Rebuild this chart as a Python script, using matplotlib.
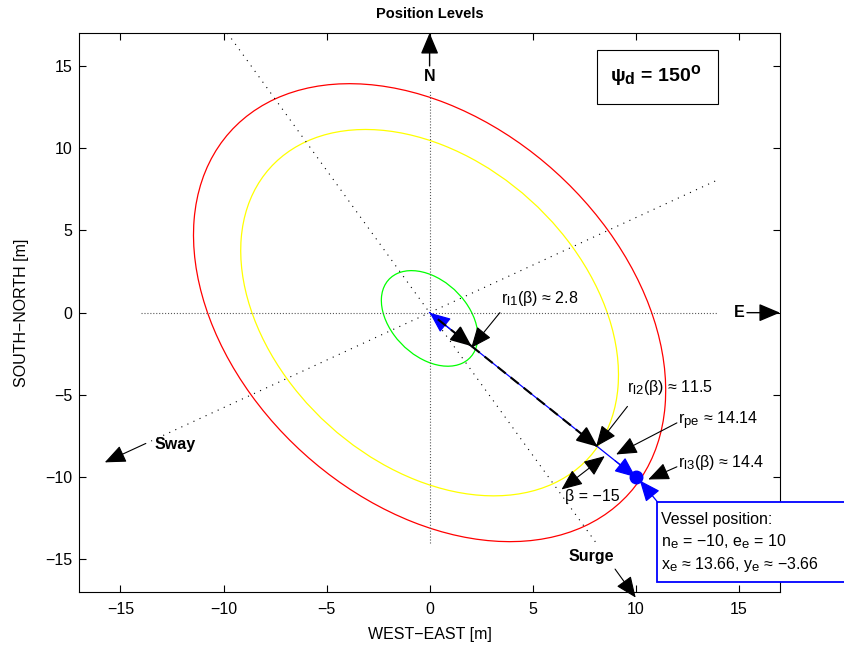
import numpy as np
import matplotlib
matplotlib.use('Agg')
import matplotlib.pyplot as plt
from matplotlib.patches import Ellipse, Rectangle

try:
    import matplotlib._mathtext as _mt
    _mt.SHRINK_FACTOR = 0.82   # larger sub/superscripts, closer to the original
except Exception:
    pass

plt.rcParams['font.family'] = ['Liberation Sans', 'DejaVu Sans']
plt.rcParams['mathtext.fontset'] = 'custom'
plt.rcParams['mathtext.rm'] = 'Liberation Sans'
plt.rcParams['mathtext.it'] = 'Liberation Sans:italic'
plt.rcParams['mathtext.bf'] = 'Liberation Sans:bold'

# data
psi_d = 150.0                      # desired heading [deg]
beta = -15.0                       # angle between surge axis and vessel position [deg]
surge_radii = [3.15, 12.0, 15.0]   # level ellipse semi-axes along surge
sway_radii = [2.0, 8.0, 10.0]      # level ellipse semi-axes along sway
level_north = [-0.35, 0.0, 0.0]    # ellipse centre offsets (north)
level_colors = ['#00ff00', '#ffff00', '#ff0000']
level_r = [2.8, 11.5, 14.4]        # r_l(beta) values shown
vessel_n, vessel_e = -10.0, 10.0
r_pe = 14.14
x_e, y_e = 13.66, -3.66
ticks = [-15, -10, -5, 0, 5, 10, 15]


def arrow(ax, start, end, color='k', both=False, lw=0.8, scale=10, z=3):
    style = '<|-|>' if both else '-|>'
    ax.annotate('', xy=end, xytext=start, annotation_clip=False, zorder=z,
                arrowprops=dict(arrowstyle=style + ',head_length=1.3,head_width=0.55',
                                color=color, lw=lw, shrinkA=0, shrinkB=0,
                                mutation_scale=scale))


def ned(t, ang):
    # point at distance t along NED direction ang [deg] -> (east, north)
    a = np.deg2rad(ang)
    return t * np.sin(a), t * np.cos(a)


fig = plt.figure(figsize=(8.45, 6.46), dpi=100)
ax = fig.add_axes([0.0938, 0.0831, 0.8292, 0.8658])

# level ellipses, major axis along surge
for a, b, n0, c in zip(surge_radii, sway_radii, level_north, level_colors):
    ax.add_patch(Ellipse((0, n0), 2 * a, 2 * b, angle=90 - psi_d,
                         fill=False, edgecolor=c, lw=0.9))

# N / E reference axes
ax.plot([-14, 14], [0, 0], ls=':', color='0.35', lw=0.8)
ax.plot([0, 0], [-14, 13.5], ls=':', color='0.35', lw=0.8)
arrow(ax, (0, 15.0), (0, 17.0), color='k', lw=1)
arrow(ax, (15.4, 0), (17.0, 0), color='k', lw=1)
ax.text(0, 14.35, 'N', ha='center', va='center', fontsize=11.5, fontweight='bold')
ax.text(15.05, 0, 'E', ha='center', va='center', fontsize=11.5, fontweight='bold')

# body axes
sx = ned(np.array([-20, 16.3]), psi_d)
ax.plot(sx[0], sx[1], ls=(0, (1, 5)), color='k', lw=0.8)
arrow(ax, ned(18.0, psi_d), ned(20.0, psi_d), lw=0.8)
ax.text(7.85, -14.85, 'Surge', ha='center', va='center', fontsize=11.5, fontweight='bold')
sy = ned(np.array([-16, 15.6]), psi_d + 90)
ax.plot(sy[0], sy[1], ls=(0, (1, 5)), color='k', lw=0.8)
arrow(ax, ned(15.9, psi_d + 90), ned(18.2, psi_d + 90), lw=0.8)
ax.text(-12.35, -8.0, 'Sway', ha='center', va='center', fontsize=11.5, fontweight='bold')

# radius to vessel and level crossings
ang = psi_d + beta
p1 = ned(level_r[0] + 0.08, ang)
p2 = ned(level_r[1] + 0.03, ang)
pv = (vessel_e, vessel_n)
ax.plot([0, pv[0]], [0, pv[1]], color='b', lw=0.9)
arrow(ax, (pv[0] * 0.1, pv[1] * 0.1), (0, 0), color='b', lw=0.9)
arrow(ax, (pv[0] * 0.9, pv[1] * 0.9), pv, color='b', lw=0.9)
ax.plot([0.4, p1[0]], [-0.4, p1[1]], color='k', lw=1.5, ls=(0, (5, 3)), zorder=4)
ax.plot([p1[0], p2[0]], [p1[1], p2[1]], color='k', lw=1.5, ls=(0, (5, 3)), zorder=4)
arrow(ax, (p1[0] - 0.8, p1[1] + 0.8), p1, lw=1.3, z=4)
arrow(ax, (p2[0] - 0.8, p2[1] + 0.8), p2, lw=1.3, z=4)
ax.plot(pv[0], pv[1], 'o', color='b', ms=9, zorder=5)

# beta arrow
arrow(ax, (6.4, -10.75), (8.5, -8.72), both=True, lw=0.8)

# text arrows
fs = 11.5
arrow(ax, (3.41, 0.0), (2.02, -2.14), lw=0.8)
ax.text(3.45, 0.85, r'r$_{\mathrm{l1}}$(β) ≈ 2.8', fontsize=fs, va='center')
arrow(ax, (9.6, -5.7), (8.08, -8.14), lw=0.8)
ax.text(9.6, -4.55, r'r$_{\mathrm{l2}}$(β) ≈ 11.5', fontsize=fs, va='center')
arrow(ax, (12.0, -6.7), (9.05, -8.62), lw=0.8)
ax.text(12.05, -6.6, r'r$_{\mathrm{pe}}$ ≈ 14.14', fontsize=fs, va='center')
arrow(ax, (12.0, -9.37), (10.61, -10.14), lw=0.8)
ax.text(12.05, -9.1, r'r$_{\mathrm{l3}}$(β) ≈ 14.4', fontsize=fs, va='center')
ax.text(6.55, -11.2, 'β = −15', fontsize=fs, va='center')

# vessel position box
arrow(ax, (11.04, -11.48), (10.2, -10.2), color='b', lw=0.9)
ax.add_patch(Rectangle((11.04, -16.39), 10.0, 4.91, fill=True, facecolor='white',
                       edgecolor='b', lw=1.3, clip_on=False, zorder=5))
ax.text(11.25, -12.55, 'Vessel position:', fontsize=fs, va='center', zorder=6)
ax.text(11.25, -13.9, r'n$_{\mathrm{e}}$ = −10, e$_{\mathrm{e}}$ = 10', fontsize=fs,
        va='center', zorder=6)
ax.text(11.25, -15.3, r'x$_{\mathrm{e}}$ ≈ 13.66, y$_{\mathrm{e}}$ ≈ −3.66', fontsize=fs,
        va='center', zorder=6)

# heading box
ax.add_patch(Rectangle((8.13, 12.69), 5.87, 3.28, fill=False, edgecolor='k', lw=0.8))
ax.text(10.95, 14.4, r'ψ$_{\mathbf{d}}$ = 150$^{\mathbf{o}}$', fontsize=14,
        fontweight='bold', ha='center', va='center')

ax.set_xlim(-17, 17)
ax.set_ylim(-17, 17)
ax.set_xticks(ticks)
ax.set_yticks(ticks)
ax.set_xticklabels([str(t).replace('-', '−') for t in ticks])
ax.set_yticklabels([str(t).replace('-', '−') for t in ticks])
ax.tick_params(direction='in', top=True, right=True, length=5, labelsize=11.5)
ax.tick_params(axis='x', pad=7)
ax.tick_params(axis='y', pad=5)
ax.set_xlabel('WEST−EAST [m]', fontsize=11.5, labelpad=7)
ax.set_ylabel('SOUTH−NORTH [m]', fontsize=11.5, labelpad=12)
ax.set_title('Position Levels', fontsize=10.5, fontweight='bold', pad=11)

fig.savefig('out.png', dpi=100)
